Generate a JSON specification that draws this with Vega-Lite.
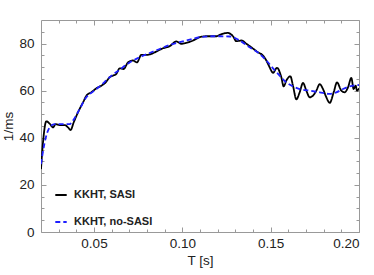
{
  "$schema": "https://vega.github.io/schema/vega-lite/v6.json",
  "autosize": "none",
  "width": 318,
  "height": 212,
  "padding": {"left": 41, "top": 20, "right": 15, "bottom": 43},
  "config": {
    "view": {"stroke": "#999", "strokeWidth": 1},
    "axis": {
      "labelFont": "Liberation Sans", "labelFontSize": 13.5, "labelColor": "#222",
      "titleFont": "Liberation Sans", "titleFontSize": 13.5, "titleFontWeight": "normal", "titleColor": "#222",
      "domain": false, "grid": false, "tickColor": "#999", "tickWidth": 1
    }
  },
  "datasets": {
    "curves": [
      {"t": 0.0200, "v": 26.7, "series": "KKHT, SASI"},
      {"t": 0.02113, "v": 38.0, "series": "KKHT, SASI"},
      {"t": 0.02302, "v": 47.0, "series": "KKHT, SASI"},
      {"t": 0.02491, "v": 46.0, "series": "KKHT, SASI"},
      {"t": 0.02679, "v": 44.4, "series": "KKHT, SASI"},
      {"t": 0.02830, "v": 45.8, "series": "KKHT, SASI"},
      {"t": 0.03057, "v": 45.4, "series": "KKHT, SASI"},
      {"t": 0.03340, "v": 45.4, "series": "KKHT, SASI"},
      {"t": 0.03528, "v": 44.4, "series": "KKHT, SASI"},
      {"t": 0.03679, "v": 43.3, "series": "KKHT, SASI"},
      {"t": 0.03849, "v": 46.5, "series": "KKHT, SASI"},
      {"t": 0.04094, "v": 50.8, "series": "KKHT, SASI"},
      {"t": 0.04377, "v": 55.0, "series": "KKHT, SASI"},
      {"t": 0.04604, "v": 58.2, "series": "KKHT, SASI"},
      {"t": 0.04849, "v": 59.3, "series": "KKHT, SASI"},
      {"t": 0.05132, "v": 61.0, "series": "KKHT, SASI"},
      {"t": 0.05415, "v": 62.1, "series": "KKHT, SASI"},
      {"t": 0.05660, "v": 63.5, "series": "KKHT, SASI"},
      {"t": 0.05887, "v": 65.7, "series": "KKHT, SASI"},
      {"t": 0.06075, "v": 66.4, "series": "KKHT, SASI"},
      {"t": 0.06264, "v": 67.1, "series": "KKHT, SASI"},
      {"t": 0.06453, "v": 69.5, "series": "KKHT, SASI"},
      {"t": 0.06679, "v": 69.2, "series": "KKHT, SASI"},
      {"t": 0.06925, "v": 72.0, "series": "KKHT, SASI"},
      {"t": 0.07208, "v": 72.8, "series": "KKHT, SASI"},
      {"t": 0.07434, "v": 72.0, "series": "KKHT, SASI"},
      {"t": 0.07679, "v": 75.2, "series": "KKHT, SASI"},
      {"t": 0.07962, "v": 75.2, "series": "KKHT, SASI"},
      {"t": 0.08245, "v": 75.6, "series": "KKHT, SASI"},
      {"t": 0.08528, "v": 76.6, "series": "KKHT, SASI"},
      {"t": 0.08906, "v": 78.0, "series": "KKHT, SASI"},
      {"t": 0.09283, "v": 78.9, "series": "KKHT, SASI"},
      {"t": 0.09660, "v": 80.9, "series": "KKHT, SASI"},
      {"t": 0.09943, "v": 79.9, "series": "KKHT, SASI"},
      {"t": 0.10226, "v": 80.3, "series": "KKHT, SASI"},
      {"t": 0.10604, "v": 81.3, "series": "KKHT, SASI"},
      {"t": 0.10981, "v": 82.7, "series": "KKHT, SASI"},
      {"t": 0.11358, "v": 83.1, "series": "KKHT, SASI"},
      {"t": 0.11679, "v": 83.1, "series": "KKHT, SASI"},
      {"t": 0.11925, "v": 83.1, "series": "KKHT, SASI"},
      {"t": 0.12151, "v": 83.8, "series": "KKHT, SASI"},
      {"t": 0.12566, "v": 84.5, "series": "KKHT, SASI"},
      {"t": 0.12868, "v": 83.1, "series": "KKHT, SASI"},
      {"t": 0.13057, "v": 81.0, "series": "KKHT, SASI"},
      {"t": 0.13340, "v": 81.3, "series": "KKHT, SASI"},
      {"t": 0.13623, "v": 79.9, "series": "KKHT, SASI"},
      {"t": 0.13906, "v": 78.4, "series": "KKHT, SASI"},
      {"t": 0.14283, "v": 76.3, "series": "KKHT, SASI"},
      {"t": 0.14566, "v": 74.9, "series": "KKHT, SASI"},
      {"t": 0.14755, "v": 72.8, "series": "KKHT, SASI"},
      {"t": 0.14943, "v": 69.9, "series": "KKHT, SASI"},
      {"t": 0.15132, "v": 67.6, "series": "KKHT, SASI"},
      {"t": 0.15358, "v": 69.7, "series": "KKHT, SASI"},
      {"t": 0.15604, "v": 65.7, "series": "KKHT, SASI"},
      {"t": 0.15736, "v": 61.8, "series": "KKHT, SASI"},
      {"t": 0.15887, "v": 64.3, "series": "KKHT, SASI"},
      {"t": 0.16113, "v": 66.1, "series": "KKHT, SASI"},
      {"t": 0.16264, "v": 62.1, "series": "KKHT, SASI"},
      {"t": 0.16453, "v": 56.3, "series": "KKHT, SASI"},
      {"t": 0.16642, "v": 59.3, "series": "KKHT, SASI"},
      {"t": 0.16830, "v": 63.3, "series": "KKHT, SASI"},
      {"t": 0.17019, "v": 60.0, "series": "KKHT, SASI"},
      {"t": 0.17208, "v": 57.2, "series": "KKHT, SASI"},
      {"t": 0.17396, "v": 57.9, "series": "KKHT, SASI"},
      {"t": 0.17585, "v": 60.0, "series": "KKHT, SASI"},
      {"t": 0.17774, "v": 62.8, "series": "KKHT, SASI"},
      {"t": 0.17962, "v": 60.7, "series": "KKHT, SASI"},
      {"t": 0.18151, "v": 57.2, "series": "KKHT, SASI"},
      {"t": 0.18340, "v": 54.8, "series": "KKHT, SASI"},
      {"t": 0.18566, "v": 59.3, "series": "KKHT, SASI"},
      {"t": 0.18755, "v": 63.5, "series": "KKHT, SASI"},
      {"t": 0.19000, "v": 60.0, "series": "KKHT, SASI"},
      {"t": 0.19189, "v": 59.3, "series": "KKHT, SASI"},
      {"t": 0.19377, "v": 61.4, "series": "KKHT, SASI"},
      {"t": 0.19566, "v": 65.4, "series": "KKHT, SASI"},
      {"t": 0.19698, "v": 60.7, "series": "KKHT, SASI"},
      {"t": 0.19811, "v": 62.1, "series": "KKHT, SASI"},
      {"t": 0.19887, "v": 60.0, "series": "KKHT, SASI"},
      {"t": 0.20000, "v": 61.0, "series": "KKHT, SASI"},
      {"t": 0.0200, "v": 28.8, "series": "KKHT, no-SASI"},
      {"t": 0.02208, "v": 38.0, "series": "KKHT, no-SASI"},
      {"t": 0.02491, "v": 44.4, "series": "KKHT, no-SASI"},
      {"t": 0.02774, "v": 45.8, "series": "KKHT, no-SASI"},
      {"t": 0.03245, "v": 45.8, "series": "KKHT, no-SASI"},
      {"t": 0.03623, "v": 45.8, "series": "KKHT, no-SASI"},
      {"t": 0.03849, "v": 47.7, "series": "KKHT, no-SASI"},
      {"t": 0.04189, "v": 52.2, "series": "KKHT, no-SASI"},
      {"t": 0.04566, "v": 57.2, "series": "KKHT, no-SASI"},
      {"t": 0.04943, "v": 59.6, "series": "KKHT, no-SASI"},
      {"t": 0.05321, "v": 61.8, "series": "KKHT, no-SASI"},
      {"t": 0.05887, "v": 65.7, "series": "KKHT, no-SASI"},
      {"t": 0.06453, "v": 68.9, "series": "KKHT, no-SASI"},
      {"t": 0.07019, "v": 72.0, "series": "KKHT, no-SASI"},
      {"t": 0.07585, "v": 74.2, "series": "KKHT, no-SASI"},
      {"t": 0.08151, "v": 76.0, "series": "KKHT, no-SASI"},
      {"t": 0.08717, "v": 77.7, "series": "KKHT, no-SASI"},
      {"t": 0.09283, "v": 79.4, "series": "KKHT, no-SASI"},
      {"t": 0.09849, "v": 80.6, "series": "KKHT, no-SASI"},
      {"t": 0.10415, "v": 81.7, "series": "KKHT, no-SASI"},
      {"t": 0.10981, "v": 82.7, "series": "KKHT, no-SASI"},
      {"t": 0.11547, "v": 83.1, "series": "KKHT, no-SASI"},
      {"t": 0.12113, "v": 83.1, "series": "KKHT, no-SASI"},
      {"t": 0.12679, "v": 83.0, "series": "KKHT, no-SASI"},
      {"t": 0.13245, "v": 81.3, "series": "KKHT, no-SASI"},
      {"t": 0.13811, "v": 78.4, "series": "KKHT, no-SASI"},
      {"t": 0.14377, "v": 75.6, "series": "KKHT, no-SASI"},
      {"t": 0.14755, "v": 72.8, "series": "KKHT, no-SASI"},
      {"t": 0.15132, "v": 69.5, "series": "KKHT, no-SASI"},
      {"t": 0.15509, "v": 66.4, "series": "KKHT, no-SASI"},
      {"t": 0.15887, "v": 63.5, "series": "KKHT, no-SASI"},
      {"t": 0.16264, "v": 61.8, "series": "KKHT, no-SASI"},
      {"t": 0.16642, "v": 60.7, "series": "KKHT, no-SASI"},
      {"t": 0.17208, "v": 60.0, "series": "KKHT, no-SASI"},
      {"t": 0.17774, "v": 59.3, "series": "KKHT, no-SASI"},
      {"t": 0.18340, "v": 58.6, "series": "KKHT, no-SASI"},
      {"t": 0.18717, "v": 59.3, "series": "KKHT, no-SASI"},
      {"t": 0.19094, "v": 60.7, "series": "KKHT, no-SASI"},
      {"t": 0.19472, "v": 61.8, "series": "KKHT, no-SASI"},
      {"t": 0.20000, "v": 62.4, "series": "KKHT, no-SASI"}
    ]
  },
  "data": {"name": "curves"},
  "resolve": {"axis": {"x": "independent", "y": "independent"}},
  "layer": [
    {
      "mark": {"type": "line", "strokeWidth": 1.8, "clip": true, "interpolate": "monotone"},
      "encoding": {
        "x": {"field": "t", "type": "quantitative", "scale": {"domain": [0.02, 0.2], "nice": false, "zero": false},
              "axis": {"orient": "bottom", "title": "T [s]", "values": [0.05, 0.1, 0.15, 0.2], "format": ".2f", "tickSize": -5, "labelPadding": 9, "titlePadding": 4}},
        "y": {"field": "v", "type": "quantitative", "scale": {"domain": [0, 90], "nice": false},
              "axis": {"orient": "left", "title": "1/ms", "values": [0, 20, 40, 60, 80], "tickSize": -5, "labelPadding": 12, "titlePadding": 3}},
        "color": {"field": "series", "type": "nominal", "sort": ["KKHT, SASI", "KKHT, no-SASI"],
                  "scale": {"domain": ["KKHT, SASI", "KKHT, no-SASI"], "range": ["#000000", "#1f1fff"]},
                  "legend": {"title": null, "orient": "none", "legendX": 13, "legendY": 168, "symbolType": "stroke", "symbolSize": 130, "symbolStrokeWidth": 2, "labelFont": "Liberation Sans", "labelFontSize": 11, "labelFontWeight": "bold", "labelColor": "#222", "labelOffset": 6, "rowPadding": 15}},
        "strokeDash": {"field": "series", "type": "nominal", "sort": ["KKHT, SASI", "KKHT, no-SASI"],
                       "scale": {"domain": ["KKHT, SASI", "KKHT, no-SASI"], "range": [[1, 0], [5, 3]]},
                       "legend": {"title": null, "orient": "none", "legendX": 13, "legendY": 168, "symbolType": "stroke", "symbolSize": 130, "symbolStrokeWidth": 2, "labelFont": "Liberation Sans", "labelFontSize": 11, "labelFontWeight": "bold", "labelColor": "#222", "labelOffset": 6, "rowPadding": 15}}
      }
    },
    {
      "mark": {"type": "point", "opacity": 0},
      "encoding": {
        "x": {"field": "t", "type": "quantitative", "axis": {"orient": "top", "title": null, "labels": false, "values": [0.05, 0.1, 0.15, 0.2], "tickSize": -5}},
        "y": {"field": "v", "type": "quantitative", "axis": {"orient": "right", "title": null, "labels": false, "values": [0, 20, 40, 60, 80], "tickSize": -5}}
      }
    },
    {
      "mark": {"type": "point", "opacity": 0},
      "encoding": {
        "x": {"field": "t", "type": "quantitative", "axis": {"orient": "bottom", "title": null, "labels": false, "values": [0.03, 0.04, 0.06, 0.07, 0.08, 0.09, 0.11, 0.12, 0.13, 0.14, 0.16, 0.17, 0.18, 0.19], "tickSize": -3}},
        "y": {"field": "v", "type": "quantitative", "axis": {"orient": "left", "title": null, "labels": false, "values": [5, 10, 15, 25, 30, 35, 45, 50, 55, 65, 70, 75, 85], "tickSize": -3}}
      }
    },
    {
      "mark": {"type": "point", "opacity": 0},
      "encoding": {
        "x": {"field": "t", "type": "quantitative", "axis": {"orient": "top", "title": null, "labels": false, "values": [0.03, 0.04, 0.06, 0.07, 0.08, 0.09, 0.11, 0.12, 0.13, 0.14, 0.16, 0.17, 0.18, 0.19], "tickSize": -3}},
        "y": {"field": "v", "type": "quantitative", "axis": {"orient": "right", "title": null, "labels": false, "values": [5, 10, 15, 25, 30, 35, 45, 50, 55, 65, 70, 75, 85], "tickSize": -3}}
      }
    }
  ]
}
